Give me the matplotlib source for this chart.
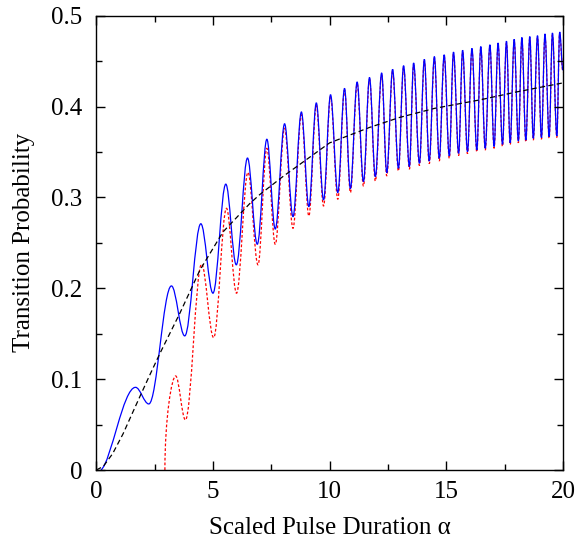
import matplotlib
matplotlib.use("Agg")
import matplotlib.pyplot as plt
from matplotlib.path import Path
from matplotlib.patches import PathPatch
import numpy as np

# values
# smooth (black dashed) curve
smooth_x = [0.0, 0.3, 0.7, 1.15, 1.5, 1.87, 2.3, 2.73, 3.58, 4.44, 5.43, 6.57, 7.0,
            8.0, 10.0, 11.71, 13.0, 14.5, 16.48, 18.0, 20.0]
smooth_y = [0.0, 0.004, 0.018, 0.04, 0.06, 0.081, 0.105, 0.1285, 0.1725, 0.22, 0.262,
            0.293, 0.303, 0.323, 0.36, 0.377, 0.388, 0.398, 0.4075, 0.416, 0.426]

# blue (solid) curve: start point, then its maxima and minima
blue_start = (0.2, 0.0)
blue_peak_x = [1.68, 3.22, 4.48, 5.55, 6.48,
               7.31, 8.07, 8.79, 9.43, 10.04, 10.64, 11.18, 11.71, 12.23, 12.70, 13.17,
               13.60, 14.06, 14.49, 14.91, 15.31, 15.70, 16.10, 16.48, 16.87, 17.22,
               17.58, 17.91, 18.24, 18.58, 18.91, 19.23, 19.55, 19.86]
blue_peak_y = [0.091, 0.2026, 0.271, 0.3146, 0.3433,
               0.364, 0.381, 0.394, 0.404, 0.413, 0.420, 0.427, 0.432, 0.437, 0.441,
               0.445, 0.448, 0.452, 0.455, 0.457, 0.460, 0.462, 0.464, 0.466, 0.468,
               0.470, 0.472, 0.474, 0.476, 0.477, 0.478, 0.480, 0.481, 0.482]
blue_trough_x = [2.25, 3.79, 5.0, 6.0, 6.9,
                 7.67, 8.43, 9.11, 9.74, 10.35, 10.89, 11.45, 11.96, 12.45, 12.95, 13.42,
                 13.85, 14.27, 14.70, 15.13, 15.53, 15.91, 16.31, 16.67, 17.05, 17.41,
                 17.74, 18.09, 18.41, 18.73, 19.08, 19.41, 19.74]
blue_trough_y = [0.0727, 0.1476, 0.1946, 0.2258, 0.2485,
                 0.2652, 0.2789, 0.2899, 0.2973, 0.3053, 0.3097, 0.3174, 0.3228, 0.3272,
                 0.332, 0.334, 0.3375, 0.340, 0.343, 0.3456, 0.3485, 0.3503, 0.3522,
                 0.354, 0.356, 0.3584, 0.360, 0.362, 0.363, 0.365, 0.3657, 0.3668, 0.3676]
blue_end = (20.0, 0.44)

# red (dotted) curve: rises from zero at alpha ~ 2.94, then maxima and minima
red_start = (2.94, 0.0)
red_peak_x = [3.40, 4.51, 5.58, 6.50,
              7.31, 8.07, 8.79, 9.43, 10.04, 10.64, 11.18, 11.71, 12.23, 12.70, 13.17,
              13.60, 14.06, 14.49, 14.91, 15.31, 15.70, 16.10, 16.48, 16.87, 17.22,
              17.58, 17.91, 18.24, 18.58, 18.91, 19.23, 19.55, 19.86]
red_peak_y = [0.1035, 0.2265, 0.288, 0.3275,
              0.354, 0.376, 0.391, 0.401, 0.411, 0.418, 0.425, 0.430, 0.435, 0.439,
              0.443, 0.446, 0.450, 0.453, 0.455, 0.458, 0.460, 0.462, 0.464, 0.466,
              0.468, 0.470, 0.472, 0.474, 0.475, 0.476, 0.478, 0.479, 0.480]
red_trough_x = [3.82, 5.03, 6.01, 6.93,
                7.67, 8.43, 9.11, 9.74, 10.35, 10.89, 11.45, 11.96, 12.45, 12.95, 13.42,
                13.85, 14.27, 14.70, 15.13, 15.53, 15.91, 16.31, 16.67, 17.05, 17.41,
                17.74, 18.09, 18.41, 18.73, 19.08, 19.41, 19.74]
red_trough_y = [0.0551, 0.1457, 0.1946, 0.2258,
                0.2484, 0.266, 0.2795, 0.2905, 0.298, 0.3053, 0.3125, 0.318, 0.3235,
                0.329, 0.331, 0.335, 0.337, 0.340, 0.343, 0.346, 0.348, 0.350, 0.352,
                0.354, 0.356, 0.358, 0.360, 0.361, 0.363, 0.364, 0.365, 0.366]
red_end = (20.0, 0.438)


def extrema_path(start, px, py, tx, ty, end, vertical_start=False):
    # points in order: start, alternating extrema, end
    xs = list(px) + list(tx)
    ys = list(py) + list(ty)
    order = np.argsort(xs)
    pts = [start] + [(xs[i], ys[i]) for i in order] + [end]
    verts = [pts[0]]
    codes = [Path.MOVETO]
    for i in range(1, len(pts)):
        (x0, y0), (x1, y1) = pts[i - 1], pts[i]
        dx = x1 - x0
        if i == 1 and vertical_start:
            c1 = (x0, y0 + 0.55 * (y1 - y0))
        elif i == 1:
            c1 = (x0 + 0.3 * dx, y0 + 0.1 * (y1 - y0))
        else:
            c1 = (x0 + 0.36 * dx, y0)
        c2 = (x1 - 0.36 * dx, y1)
        verts += [c1, c2, (x1, y1)]
        codes += [Path.CURVE4] * 3
    return Path(verts, codes)


plt.rcParams['font.family'] = ['Liberation Serif', 'DejaVu Serif']

fig = plt.figure(figsize=(5.75, 5.4), dpi=100)
ax = fig.add_axes([0.1675, 0.1296, 0.8115, 0.8414])

blue_path = extrema_path(blue_start, blue_peak_x, blue_peak_y,
                         blue_trough_x, blue_trough_y, blue_end)
red_path = extrema_path(red_start, red_peak_x, red_peak_y,
                        red_trough_x, red_trough_y, red_end, vertical_start=True)

ax.add_patch(PathPatch(red_path, fill=False, edgecolor='#ff0000', lw=0.9,
                       linestyle=(0, (2.2, 1.6))))
ax.add_patch(PathPatch(blue_path, fill=False, edgecolor='#0000ff', lw=0.9))
ax.plot(smooth_x, smooth_y, color='black', lw=0.9, linestyle=(0, (4.2, 2.6)))

ax.set_xlim(0, 20)
ax.set_ylim(0, 0.5)
ax.set_xticks([0, 5, 10, 15, 20])
ax.set_xticks([2.5, 7.5, 12.5, 17.5], minor=True)
ax.set_yticks([0, 0.1, 0.2, 0.3, 0.4, 0.5])
ax.set_yticks([0.05, 0.15, 0.25, 0.35, 0.45], minor=True)
ax.set_yticklabels(['0', '0.1', '0.2', '0.3', '0.4', '0.5'])
ax.tick_params(which='both', direction='in', top=True, right=True, labelsize=18,
               width=1.0)
ax.tick_params(which='major', length=6.5)
ax.tick_params(which='minor', length=4)
ax.tick_params(axis='x', which='major', pad=8)
ax.tick_params(axis='y', which='major', pad=10)
for s in ax.spines.values():
    s.set_linewidth(1.0)

ax.set_xlabel('Scaled Pulse Duration \u03b1', fontsize=18, labelpad=10)
ax.set_ylabel('Transition Probability', fontsize=18, labelpad=12)

fig.savefig('out.png', dpi=100)
